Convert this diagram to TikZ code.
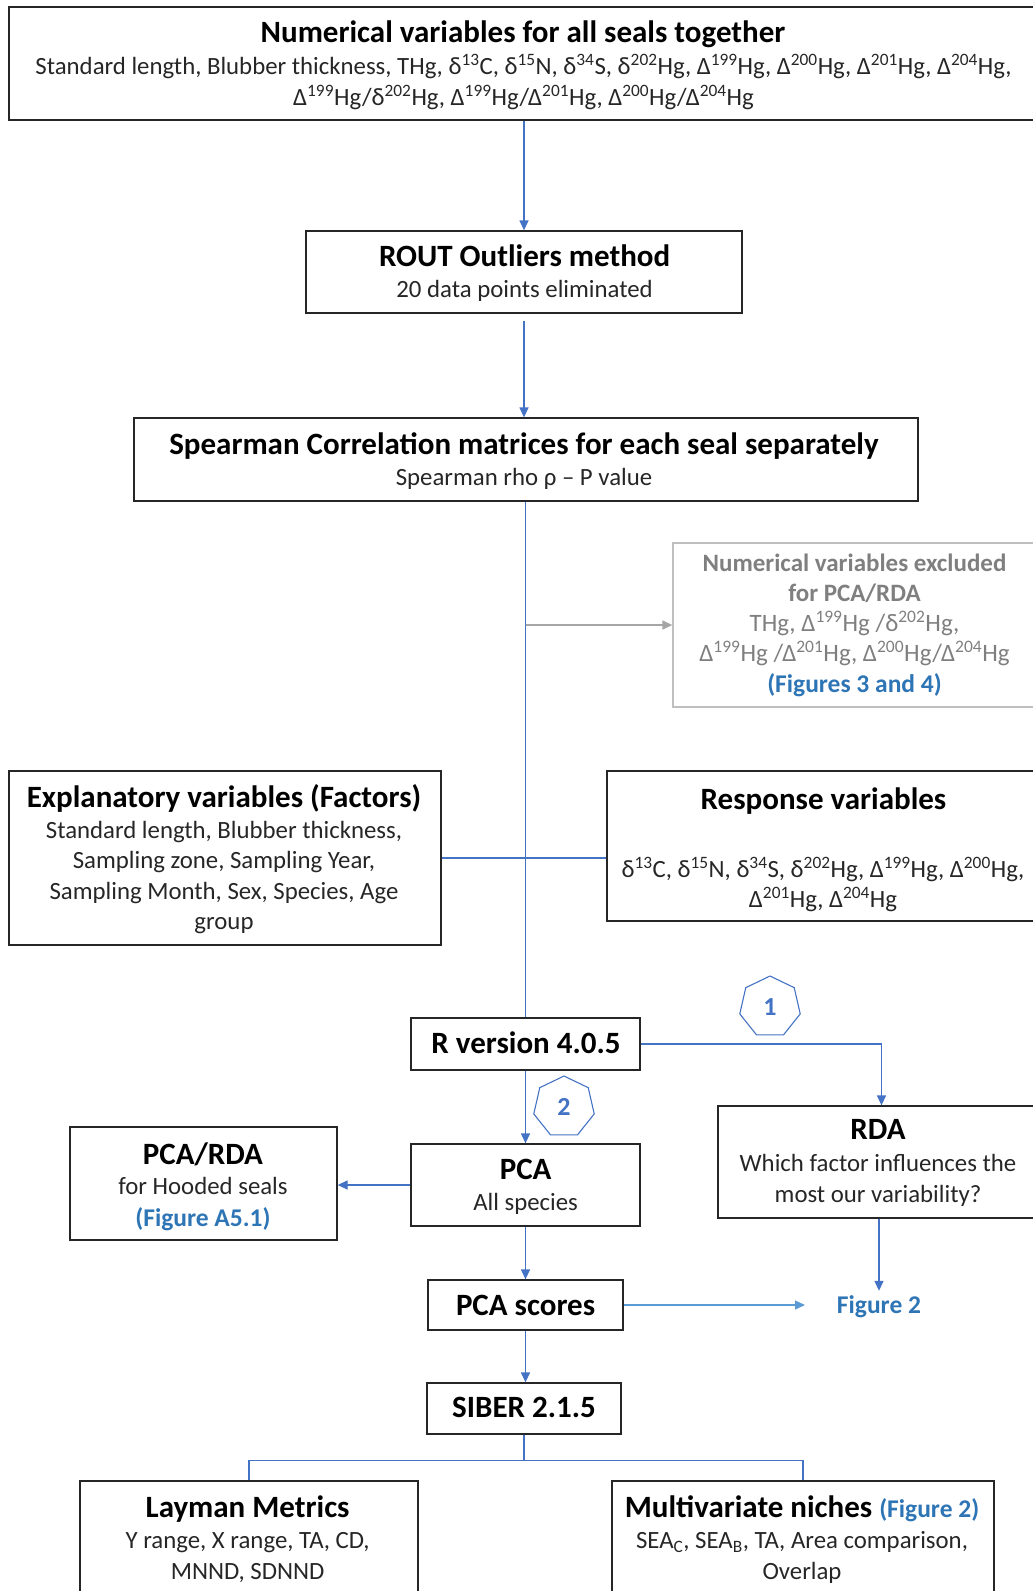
\documentclass[tikz,border=0pt]{standalone}
\usepackage{fontspec}
\setmainfont{Carlito}
\usetikzlibrary{arrows.meta,shapes.geometric}
\definecolor{cblue}{HTML}{4472C4}
\definecolor{lblue}{HTML}{5B9BD5}
\definecolor{tblue}{HTML}{2E75B6}
\definecolor{gline}{HTML}{A6A6A6}
\definecolor{gtext}{HTML}{7F7F7F}
\definecolor{bordc}{HTML}{262626}
\newcommand{\supx}[1]{\textsuperscript{#1}}
\begin{document}
\begin{tikzpicture}[x=1pt,y=-1pt,
 box/.style={draw=bordc, line width=1.3pt, rectangle, inner sep=0pt},
 gbox/.style={draw=gray!50, line width=1.3pt, rectangle, inner sep=0pt},
 ttl/.style={font=\fontsize{31}{36}\selectfont\bfseries, text=black, inner sep=0pt, anchor=mid, yshift=-8pt},
 txt/.style={font=\fontsize{24.8}{30}\selectfont, text=bordc, inner sep=0pt, anchor=mid, yshift=-6.5pt},
 gttl/.style={font=\fontsize{25}{30}\selectfont\bfseries, text=gtext, inner sep=0pt, anchor=mid, yshift=-6.5pt},
 gtxt/.style={font=\fontsize{25}{30}\selectfont, text=gtext, inner sep=0pt, anchor=mid, yshift=-6.5pt},
 btxt/.style={font=\fontsize{25.5}{30}\selectfont\bfseries, text=tblue, inner sep=0pt, anchor=mid, yshift=-6.5pt},
 conn/.style={draw=cblue, line width=1.3pt},
 arr/.style={conn, -{Triangle[length=10pt,width=9pt]}},
 garr/.style={draw=gline, line width=1.3pt, -{Triangle[length=10pt,width=9pt]}},
 hept/.style={regular polygon, regular polygon sides=7, draw=cblue, line width=1.1pt, minimum size=62pt, inner sep=0pt, text=cblue, font=\fontsize{26}{30}\selectfont\bfseries},
]
\useasboundingbox (0,0) rectangle (1033,1591);

% boxes
\node[box, minimum width=1036pt, minimum height=113pt] (top) at (527,63.5) {};
\node[box, minimum width=436pt, minimum height=82pt] (rout) at (524,272) {};
\node[box, minimum width=784pt, minimum height=83pt] (spear) at (526,459.5) {};
\node[gbox, minimum width=366pt, minimum height=164pt] (excl) at (856,625) {};
\node[box, minimum width=432pt, minimum height=174pt] (expl) at (225,858) {};
\node[box, minimum width=432pt, minimum height=150pt] (resp) at (823,846) {};
\node[box, minimum width=229pt, minimum height=52pt] (rver) at (525.5,1044) {};
\node[box, minimum width=327pt, minimum height=112pt] (rda) at (881.5,1162) {};
\node[box, minimum width=229pt, minimum height=82pt] (pca) at (525.5,1185) {};
\node[box, minimum width=267pt, minimum height=113pt] (pcarda) at (203.5,1183.5) {};
\node[box, minimum width=195pt, minimum height=50pt] (scores) at (525.5,1305) {};
\node[box, minimum width=194pt, minimum height=51pt] (siber) at (524,1408.5) {};
\node[box, minimum width=338pt, minimum height=130pt] (layman) at (249,1546) {};
\node[box, minimum width=382pt, minimum height=130pt] (multi) at (803,1546) {};

% texts
\node[ttl] (top-t) at (523,32.5) {Numerical variables for all seals together};
\node[txt] (top-1) at (523.5,66) {Standard length, Blubber thickness, THg, δ\supx{13}C, δ\supx{15}N, δ\supx{34}S, δ\supx{202}Hg, Δ\supx{199}Hg, Δ\supx{200}Hg, Δ\supx{201}Hg, Δ\supx{204}Hg,};
\node[txt] (top-2) at (523.5,97) {Δ\supx{199}Hg/δ\supx{202}Hg, Δ\supx{199}Hg/Δ\supx{201}Hg, Δ\supx{200}Hg/Δ\supx{204}Hg};

\node[ttl] (rout-t) at (524.6,256) {ROUT Outliers method};
\node[txt] (rout-1) at (524.6,289) {20 data points eliminated};

\node[ttl] (spear-t) at (524,444) {Spearman Correlation matrices for each seal separately};
\node[txt] (spear-1) at (524,477) {Spearman rho ρ – P value};

\node[gttl] (excl-t1) at (854.5,563) {Numerical variables excluded};
\node[gttl] (excl-t2) at (854.5,593) {for PCA/RDA};
\node[gtxt] (excl-1) at (854.5,623) {THg, Δ\supx{199}Hg /δ\supx{202}Hg,};
\node[gtxt] (excl-2) at (854.5,653) {Δ\supx{199}Hg /Δ\supx{201}Hg, Δ\supx{200}Hg/Δ\supx{204}Hg};
\node[btxt] (excl-3) at (854.5,684) {(Figures 3 and 4)};

\node[ttl] (expl-t) at (224,797) {Explanatory variables (Factors)};
\node[txt] (expl-1) at (224,830) {Standard length, Blubber thickness,};
\node[txt] (expl-2) at (224,860) {Sampling zone, Sampling Year,};
\node[txt] (expl-3) at (224,891) {Sampling Month, Sex, Species, Age};
\node[txt] (expl-4) at (224,921) {group};

\node[ttl] (resp-t) at (823.5,799) {Response variables};
\node[txt] (resp-1) at (823,869) {δ\supx{13}C, δ\supx{15}N, δ\supx{34}S, δ\supx{202}Hg, Δ\supx{199}Hg, Δ\supx{200}Hg,};
\node[txt] (resp-2) at (823,899) {Δ\supx{201}Hg, Δ\supx{204}Hg};

\node[ttl] (rver-t) at (526,1043) {R version 4.0.5};

\node[ttl] (rda-t) at (878,1129) {RDA};
\node[txt] (rda-1) at (878,1163) {Which factor influences the};
\node[txt] (rda-2) at (878,1194) {most our variability?};

\node[ttl] (pca-t) at (525.6,1169) {PCA};
\node[txt] (pca-1) at (525.6,1202) {All species};

\node[ttl] (pcarda-t) at (203,1154) {PCA/RDA};
\node[txt] (pcarda-1) at (203,1186) {for Hooded seals};
\node[btxt] (pcarda-2) at (203,1218) {(Figure A5.1)};

\node[ttl] (scores-t) at (525.6,1305) {PCA scores};
\node[btxt] (fig2) at (879,1305) {Figure 2};

\node[ttl] (siber-t) at (524,1407) {SIBER 2.1.5};

\node[ttl] (layman-t) at (247.6,1507) {Layman Metrics};
\node[txt] (layman-1) at (247.6,1540) {Y range, X range, TA, CD,};
\node[txt] (layman-2) at (247.6,1571) {MNND, SDNND};

\node[ttl] (multi-t) at (802,1507) {Multivariate niches \textcolor{tblue}{\fontsize{25.5}{30}\selectfont(Figure 2)}};
\node[txt] (multi-1) at (802,1540) {SEA\textsubscript{C}, SEA\textsubscript{B}, TA, Area comparison,};
\node[txt] (multi-2) at (802,1571) {Overlap};

% heptagons
\node[hept] (h1) at (770,1007) {1};
\node[hept] (h2) at (564,1107) {2};

% connectors
\draw[arr] (top.south -| rout.north) -- (rout.north);
\draw[arr] ([yshift=-7pt]rout.south) -- (rout.south |- spear.north);
\draw[conn] (spear.south -| rver.north) -- (rver.north);
\coordinate (gj) at (525.5,625);
\draw[garr] (gj) -- (gj -| excl.west);
\draw[conn, line width=2.2pt] (expl.east) -- (expl.east -| resp.west);
\draw[arr] (rver.east) -| (rda.north);
\draw[arr] (rver.south) -- (pca.north);
\draw[arr] (pca.west) -- (pca.west -| pcarda.east);
\draw[arr] (pca.south) -- (scores.north);
\coordinate (f2end) at (805,1305);
\draw[arr, draw=lblue] (scores.east) -- (scores.east -| f2end);
\draw[arr] (rda.south -| fig2.north) -- ([yshift=5pt]fig2.north);
\draw[arr] (scores.south) -- (siber.north -| scores.south);
\draw[conn] (layman.north) -- ++(0,-20) coordinate (bl) -| (multi.north);
\draw[conn] (siber.south) -- (siber.south |- bl);
\end{tikzpicture}
\end{document}
